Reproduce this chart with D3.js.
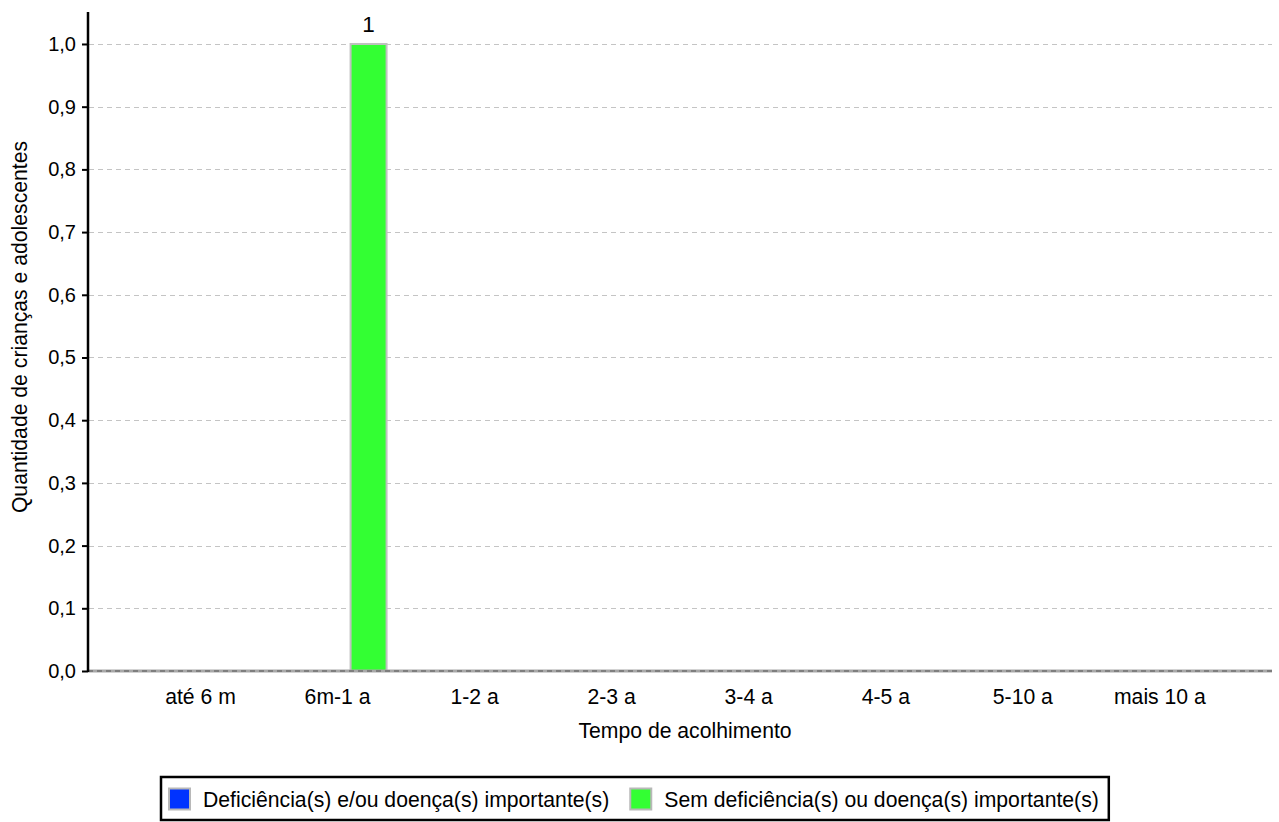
<!DOCTYPE html>
<html>
<head>
<meta charset="utf-8">
<script src="https://cdn.jsdelivr.net/npm/d3@7"></script>
<style>
  html, body { margin: 0; padding: 0; background: #fff; }
  svg { display: block; font-family: "Liberation Sans", Arial, sans-serif; }
</style>
</head>
<body>
<svg id="chart" width="1279" height="822"></svg>
<script>
// ---- data ----
const categories = ["até 6 m", "6m-1 a", "1-2 a", "2-3 a", "3-4 a", "4-5 a", "5-10 a", "mais 10 a"];
const seriesNames = ["Deficiência(s) e/ou doença(s) importante(s)", "Sem deficiência(s) ou doença(s) importante(s)"];
const seriesColors = ["#0033ff", "#33ff33"];
const deficienciaValues = [0, 0, 0, 0, 0, 0, 0, 0];
const semDeficienciaValues = [0, 1, 0, 0, 0, 0, 0, 0];
const yTicks = [0, 0.1, 0.2, 0.3, 0.4, 0.5, 0.6, 0.7, 0.8, 0.9, 1.0];
const xTitle = "Tempo de acolhimento";
const yTitle = "Quantidade de crianças e adolescentes";

const seriesValues = [deficienciaValues, semDeficienciaValues];

// ---- layout ----
const svg = d3.select("#chart");
const plotLeft = 88, plotRight = 1272, plotTop = 12, plotBottom = 671;
const FONT = 21.2;

const x0 = d3.scaleBand().domain(categories).range([132, 1228.4]).padding(0);
const x1 = d3.scaleBand().domain(seriesNames)
  .range([x0.bandwidth() / 2 - 26, x0.bandwidth() / 2 + 50]).padding(0);
const y = d3.scaleLinear().domain([0, 1.051]).range([plotBottom, plotTop]);

// gridlines
svg.append("g").selectAll("line").data(yTicks.filter(d => d > 0)).join("line")
  .attr("x1", plotLeft + 1).attr("x2", plotRight)
  .attr("y1", d => Math.round(y(d)) + 0.5).attr("y2", d => Math.round(y(d)) + 0.5)
  .attr("stroke", "#c4c4c4").attr("stroke-width", 1).attr("stroke-dasharray", "5,4");

// bars
const groups = svg.append("g").selectAll("g").data(categories).join("g")
  .attr("transform", d => `translate(${x0(d)},0)`);
groups.selectAll("rect")
  .data((c, i) => seriesNames.map((s, k) => ({ s, k, v: seriesValues[k][i] })).filter(d => d.v > 0))
  .join("rect")
  .attr("x", d => x1(d.s) + 1)
  .attr("width", x1.bandwidth() - 2)
  .attr("y", d => y(d.v))
  .attr("height", d => y(0) - y(d.v))
  .attr("fill", d => seriesColors[d.k])
  .attr("stroke", "#c0c0c0").attr("stroke-width", 2);
// value labels
groups.selectAll("text")
  .data((c, i) => seriesNames.map((s, k) => ({ s, k, v: seriesValues[k][i] })).filter(d => d.v > 0))
  .join("text")
  .attr("x", d => x1(d.s) + x1.bandwidth() / 2)
  .attr("y", d => y(d.v) - 12)
  .attr("text-anchor", "middle").attr("font-size", 22.5).attr("fill", "#000")
  .text(d => d3.format("d")(d.v));

// baseline (zero line)
svg.append("line").attr("x1", plotLeft).attr("x2", plotRight)
  .attr("y1", y(0)).attr("y2", y(0)).attr("stroke", "#a8a8a8").attr("stroke-width", 3);
svg.append("line").attr("x1", plotLeft).attr("x2", plotRight)
  .attr("y1", y(0)).attr("y2", y(0)).attr("stroke", "#707070").attr("stroke-width", 1.5)
  .attr("stroke-dasharray", "5,4");

// y axis
const yAxis = d3.axisLeft(y).tickValues(yTicks).tickSize(6).tickPadding(6)
  .tickFormat(d => d3.format(".1f")(d).replace(".", ","));
const gy = svg.append("g").attr("transform", `translate(${plotLeft},0)`).call(yAxis);
gy.select(".domain").attr("stroke", "#000").attr("stroke-width", 2.5)
  .attr("d", `M0,${plotTop}V${plotBottom + 1}`);
gy.selectAll(".tick line").attr("stroke", "#000").attr("stroke-width", 2);
gy.selectAll(".tick text").attr("font-size", 20).attr("fill", "#000")
  .attr("font-family", "'Liberation Sans', Arial, sans-serif");

// x axis labels
const xAxis = d3.axisBottom(x0).tickSize(0).tickPadding(0);
const gx = svg.append("g").attr("transform", `translate(0,${plotBottom})`).call(xAxis);
gx.select(".domain").remove();
gx.selectAll(".tick text").attr("font-size", FONT).attr("fill", "#000")
  .attr("dy", null).attr("y", 33)
  .attr("font-family", "'Liberation Sans', Arial, sans-serif");

// axis titles
svg.append("text").attr("x", 685).attr("y", 738)
  .attr("text-anchor", "middle").attr("font-size", FONT).text(xTitle);
svg.append("text").attr("transform", "translate(27,327) rotate(-90)")
  .attr("text-anchor", "middle").attr("font-size", FONT).text(yTitle);

// legend
const legend = svg.append("g");
let cx = 0;
const items = legend.selectAll("g").data(seriesNames).join("g");
items.each(function (d, i) {
  const g = d3.select(this);
  g.append("rect").attr("x", 0).attr("y", -10.5).attr("width", 21).attr("height", 21)
    .attr("fill", seriesColors[i]).attr("stroke", "#b8b8b8").attr("stroke-width", 2);
  const t = g.append("text").attr("x", 34).attr("y", 7.5).attr("font-size", FONT).text(d);
  const w = t.node().getComputedTextLength();
  g.attr("transform", `translate(${cx},0)`);
  cx += 34 + w + 21;
});
const totalW = cx - 21;
const legX = 169, legY = 799;
legend.attr("transform", `translate(${legX},${legY})`);
svg.insert("rect", "g")
  .attr("x", legX - 8).attr("y", 777).attr("width", totalW + 16 + 2).attr("height", 43)
  .attr("fill", "#fff").attr("stroke", "#000").attr("stroke-width", 2.5);
</script>
</body>
</html>
